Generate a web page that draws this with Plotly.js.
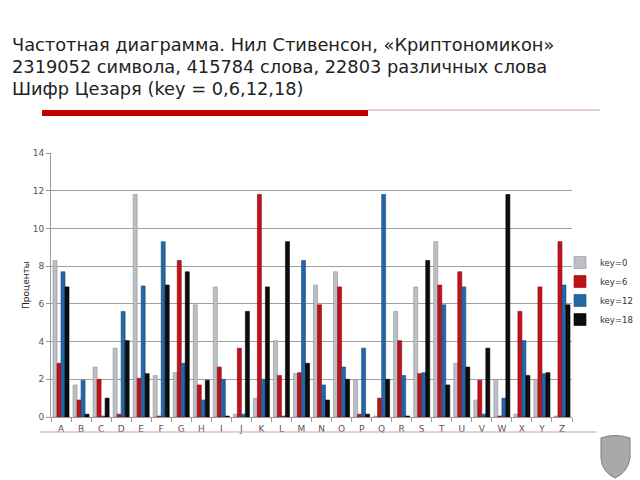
<!DOCTYPE html>
<html>
<head>
<meta charset="utf-8">
<script src="https://cdn.plot.ly/plotly-3.0.1.min.js"></script>
<style>html,body{margin:0;padding:0;background:#fff;}#chart{width:640px;height:480px;}</style>
</head>
<body>
<div id="chart"></div>
<script>
var letters = ["A","B","C","D","E","F","G","H","I","J","K","L","M","N","O","P","Q","R","S","T","U","V","W","X","Y","Z"];
var key0  = [8.3,1.7,2.65,3.65,11.8,2.2,2.35,5.95,6.9,0.15,1.0,4.05,2.3,7.0,7.7,1.95,0.05,5.6,6.9,9.3,2.85,0.9,2.0,0.15,2.0,0.05];
var key6  = [2.85,0.9,2.0,0.15,2.05,0.05,8.3,1.7,2.65,3.65,11.8,2.2,2.35,5.95,6.9,0.15,1.0,4.05,2.3,7.0,7.7,1.95,0.05,5.6,6.9,9.3];
var key12 = [7.7,1.95,0.05,5.6,6.95,9.3,2.85,0.9,2.0,0.15,2.0,0.05,8.3,1.7,2.65,3.65,11.8,2.2,2.35,5.95,6.9,0.15,1.0,4.05,2.3,7.0];
var key18 = [6.9,0.15,1.0,4.05,2.3,7.0,7.7,1.95,0.05,5.6,6.9,9.3,2.85,0.9,2.0,0.15,2.0,0.05,8.3,1.7,2.65,3.65,11.8,2.2,2.35,5.95];
var seriesNames = ["key=0","key=6","key=12","key=18"];
var titleLines = ["Частотная диаграмма. Нил Стивенсон, «Криптономикон»",
                  "2319052 символа, 415784 слова, 22803 различных слова",
                  "Шифр Цезаря (key = 0,6,12,18)"];
var yTitle = "Проценты";

var fills = ["#bcbfc5","#c0121b","#2566a6","#0d0d0d"];
var edges = ["#8e9298","#8a0c12","#1a4b7c","#000000"];
var vals = [key0,key6,key12,key18];
var traces = vals.map(function(v,i){
  return {type:"bar", x:letters, y:v, name:seriesNames[i],
    marker:{color:fills[i], line:{color:edges[i], width:0.6}}};
});

// paper area in pixels (plot spans 51..572, paper spans 51..640)
var L=51, PR=640, R=572, T=153, B=417;
function px(x){return (x-L)/(PR-L);}
function py(y){return (B-y)/(B-T);}

var annotations = titleLines.map(function(t,i){
  return {xref:"paper", yref:"paper", x:px(10), y:py(45+i*21.5), xanchor:"left", yanchor:"middle",
    text:t, showarrow:false, font:{family:"DejaVu Sans", size:17.8, color:"#222"}};
});

var shapes = [
  {type:"rect", xref:"paper", yref:"paper", x0:px(42), x1:px(368), y0:py(110), y1:py(116), fillcolor:"#c00000", line:{width:0}},
  {type:"line", xref:"paper", yref:"paper", x0:px(368), x1:px(600), y0:py(110), y1:py(110), line:{color:"#d99a9a", width:1}},
  {type:"line", xref:"paper", yref:"paper", x0:px(40), x1:px(597), y0:py(432), y1:py(432), line:{color:"#d9a0a0", width:1.2}},
  {type:"path", xref:"paper", yref:"paper",
   path:"M "+px(601)+","+py(438)+" Q "+px(615)+","+py(433)+" "+px(630)+","+py(438)+
        " L "+px(630)+","+py(458)+" Q "+px(628)+","+py(472)+" "+px(615)+","+py(478)+
        " Q "+px(602)+","+py(472)+" "+px(601)+","+py(458)+" Z",
   fillcolor:"#a9a9a9", line:{color:"#7d7d7d", width:1}}
];

var layout = {
  width:640, height:480,
  margin:{l:L, r:640-PR, t:T, b:480-B, pad:0},
  paper_bgcolor:"#ffffff", plot_bgcolor:"#ffffff",
  barmode:"group", bargap:0.2, bargroupgap:0,
  showlegend:true,
  legend:{x:px(560), y:py(291), xanchor:"left", yanchor:"middle", font:{family:"DejaVu Sans", size:8.5, color:"#333"},
    bgcolor:"rgba(0,0,0,0)", itemwidth:30, tracegroupgap:0},
  xaxis:{type:"category", domain:[0, px(R)], showgrid:false, showline:true, linecolor:"#999", linewidth:1,
    ticks:"outside", tickson:"boundaries", ticklen:4, tickcolor:"#999", ticklabelstandoff:3,
    tickfont:{family:"DejaVu Sans", size:9, color:"#555"}, fixedrange:true, automargin:false},
  yaxis:{range:[0,14], dtick:2, showgrid:true, gridcolor:"#a0a0a0", gridwidth:1, automargin:false,
    showline:true, linecolor:"#999", linewidth:1, ticks:"outside", ticklen:4, tickcolor:"#999",
    tickfont:{family:"DejaVu Sans", size:9, color:"#555"}, zeroline:false,
    title:{text:yTitle, font:{family:"DejaVu Sans", size:9, color:"#222"}, standoff:1}},
  annotations:annotations,
  shapes:shapes
};
Plotly.newPlot("chart", traces, layout, {staticPlot:true, displayModeBar:false});
</script>
</body>
</html>
